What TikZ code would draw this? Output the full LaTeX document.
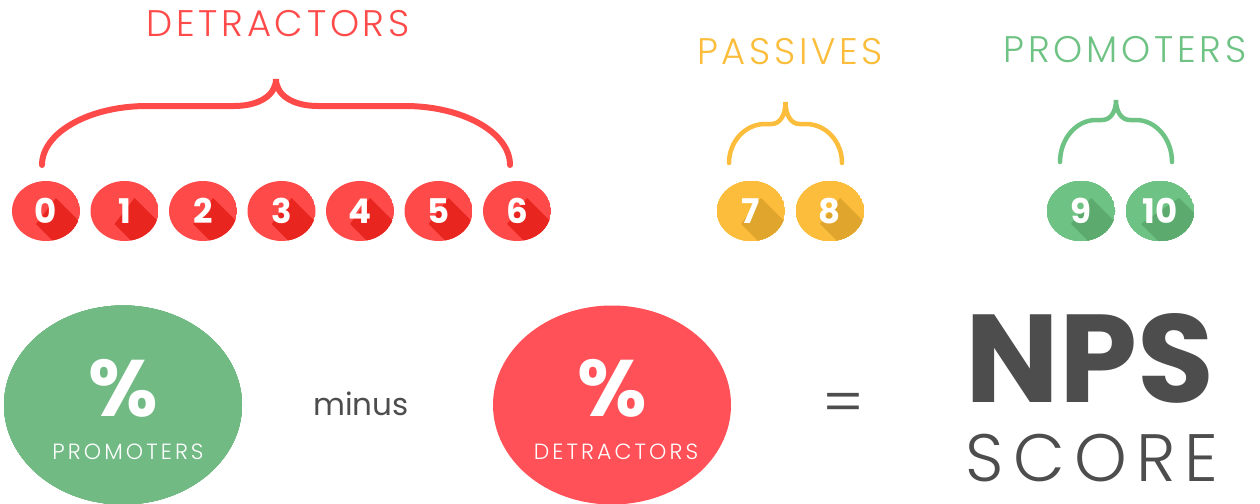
\documentclass[tikz,border=0pt]{standalone}
\usepackage{fontspec}
\setmainfont{Poppins}
\newfontfamily\thinfont{Poppins Light}
\newfontfamily\spacedfont{Poppins Light}[LetterSpace=14]
\newfontfamily\titlefont{Poppins Light}[LetterSpace=10]
\usetikzlibrary{shapes.geometric}
\definecolor{detred}{HTML}{FF4A4A}
\definecolor{detshade}{HTML}{E8261F}
\definecolor{pasyellow}{HTML}{FBBD3B}
\definecolor{passhade}{HTML}{E0A52D}
\definecolor{progreen}{HTML}{6EC283}
\definecolor{proshade}{HTML}{5CAA6E}
\definecolor{biggreen}{HTML}{71BA84}
\definecolor{bigred}{HTML}{FF5157}
\definecolor{npsgray}{HTML}{4D4D4D}
\tikzset{
	rating/.style={inner sep=0pt,text=white,font=\bfseries\fontsize{34}{34}\selectfont},
	bigdisc/.style={ellipse,minimum width=238pt,minimum height=199pt,inner sep=0pt},
	groupname/.style={inner sep=0pt,font=\titlefont\fontsize{37}{37}\selectfont},
	percent/.style={inner sep=0pt,text=white,font=\bfseries\fontsize{80}{80}\selectfont},
	share/.style={inner sep=0pt,text=white,font=\spacedfont\fontsize{22}{22}\selectfont,anchor=base},
	bracket/.style={line width=6pt,line cap=round},
}
% rating disc: name, x, digit, fill, shade, half width of the digit
\newcommand\ratingdisc[6]{
	\begin{scope}
	\clip (#2,211) ellipse [x radius=34pt,y radius=30pt];
	\fill[#4] (#2,211) ellipse [x radius=34pt,y radius=30pt];
	\fill[#5] (#2+#6,198) -- ++(70,70) -- ++(-2*#6,26) -- (#2-#6,224) -- cycle;
	\end{scope}
	\node[rating] (#1) at (#2,211) {#3};
}
% curly bracket: colour, left, right, bottom, bar, tip, corner, middle
\newcommand\groupbrace[8]{
	\draw[bracket,#1] (#2,#4) .. controls (#2,#4-0.55*#4+0.55*#5) and (#2+0.45*#7,#5) .. (#2+#7,#5)
		-- (#2/2+#3/2-#8,#5) .. controls (#2/2+#3/2-0.4*#8,#5) and (#2/2+#3/2,#5-0.4*#5+0.4*#6) .. (#2/2+#3/2,#6)
		.. controls (#2/2+#3/2,#5-0.4*#5+0.4*#6) and (#2/2+#3/2+0.4*#8,#5) .. (#2/2+#3/2+#8,#5)
		-- (#3-#7,#5) .. controls (#3-0.45*#7,#5) and (#3,#4-0.55*#4+0.55*#5) .. (#3,#4);
}
\begin{document}
\begin{tikzpicture}[x=1pt,y=-1pt]
	\useasboundingbox (0,0) rectangle (1260,503);
	\node[groupname,text=detred] (dettitle) at (278,24) {DETRACTORS};
	\node[groupname,text=pasyellow] (pastitle) at (790,52) {PASSIVES};
	\node[groupname,text=progreen] (protitle) at (1125,50) {PROMOTERS};
	\groupbrace{detred}{42}{510}{165}{106}{79}{105}{42}
	\groupbrace{pasyellow,line width=4.5pt}{729}{842}{163}{124}{102}{36}{14}
	\groupbrace{progreen,line width=4.5pt}{1060}{1172}{162}{120}{100}{36}{14}
	\foreach \i in {0,...,6}
		\ratingdisc{d\i}{46+78.5*\i}{\i}{detred}{detshade}{10}
	\ratingdisc{d7}{751}{7}{pasyellow}{passhade}{10}
	\ratingdisc{d8}{830}{8}{pasyellow}{passhade}{10}
	\ratingdisc{d9}{1081}{9}{progreen}{proshade}{10}
	\ratingdisc{d10}{1160}{10}{progreen}{proshade}{19}
	\node[bigdisc,fill=biggreen] (pro) at (123,405) {};
	\node[percent] (propct) at (123,388) {\%};
	\node[share] (prolabel) at (128,459) {PROMOTERS};
	\node[inner sep=0pt,anchor=base,text=npsgray,font=\fontsize{31}{31}\selectfont] (minus) at (361,415) {minus};
	\node[bigdisc,fill=bigred] (det) at (612,405) {};
	\node[percent] (detpct) at (612,388) {\%};
	\node[share] (detlabel) at (616,459) {DETRACTORS};
	\node[inner sep=0pt,text=npsgray,font=\thinfont\fontsize{62}{62}\selectfont] (equals) at (843,409) {=};
	\node[inner sep=0pt,anchor=base,text=npsgray,font=\bfseries\fontsize{125}{125}\selectfont] (nps) at (1090,402) {NPS};
	\node[inner sep=0pt,anchor=base,text=npsgray,font=\spacedfont\fontsize{67}{67}\selectfont] (score) at (1092,481) {SCORE};
\end{tikzpicture}
\end{document}
